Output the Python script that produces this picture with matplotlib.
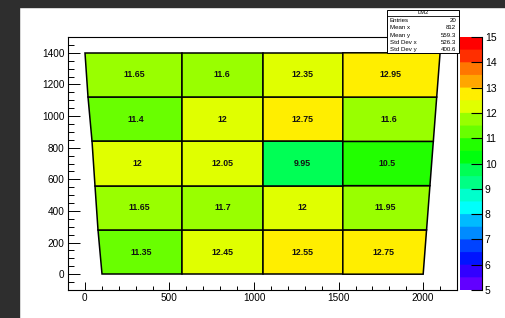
import colorsys

import numpy as np
import matplotlib
matplotlib.use("Agg")
import matplotlib.pyplot as plt
from matplotlib.colors import ListedColormap, BoundaryNorm
from matplotlib.patches import Polygon, Rectangle
from matplotlib.ticker import MultipleLocator

plt.rcParams["font.family"] = ["Liberation Sans", "DejaVu Sans"]

# bin contents, bottom row first, columns left to right
VALUES = [
    [11.35, 12.45, 12.55, 12.75],
    [11.65, 11.7, 12.0, 11.95],
    [12.0, 12.05, 9.95, 10.5],
    [11.4, 12.0, 12.75, 11.6],
    [11.65, 11.6, 12.35, 12.95],
]
LABELS = [
    ["11.35", "12.45", "12.55", "12.75"],
    ["11.65", "11.7", "12", "11.95"],
    ["12", "12.05", "9.95", "10.5"],
    ["11.4", "12", "12.75", "11.6"],
    ["11.65", "11.6", "12.35", "12.95"],
]
ROW_EDGES = [0, 280, 560, 840, 1120, 1400]
INNER_X = [575, 1050, 1525]
LEFT_X = (100, 0)      # outer left edge at y=0 and y=1400
RIGHT_X = (2000, 2100)  # outer right edge at y=0 and y=1400

STATS_TITLE = "LM2"
STATS = [("Entries", "20"), ("Mean x", "812"), ("Mean y", "559.3"),
         ("Std Dev x", "526.3"), ("Std Dev y", "400.6")]

ZMIN, ZMAX, NCONT = 5, 15, 20

# ROOT "pretty" palette (violet -> red), sampled like THistPainter
cols = []
for k in range(NCONT):
    idx = int((k + 0.99) * 50 / NCONT)
    hue = 280 - (idx + 1) * 280 / 50
    cols.append(colorsys.hls_to_rgb(hue / 360, 0.5, 1.0))
cmap = ListedColormap(cols)
norm = BoundaryNorm(np.linspace(ZMIN, ZMAX, NCONT + 1), NCONT)

W, H = 506, 318
fig = plt.figure(figsize=(W / 100, H / 100), dpi=100)
fig.patch.set_facecolor("white")
fig.patches.append(Rectangle((0, 0), 19 / W, 1, transform=fig.transFigure,
                             color="#2e2e2e", zorder=-1))
fig.patches.append(Rectangle((0, 1 - 7 / H), 1, 7 / H, transform=fig.transFigure,
                             color="#2e2e2e", zorder=-1))

ax = fig.add_axes([68 / W, 1 - 290 / H, (457 - 68) / W, (290 - 37) / H])
ax.set_xlim(-100, 2200)
ax.set_ylim(-100, 1500)


def edge_x(side, y):
    x0, x1 = side
    return x0 + (x1 - x0) * (y - ROW_EDGES[0]) / (ROW_EDGES[-1] - ROW_EDGES[0])


for r in range(len(ROW_EDGES) - 1):
    y0, y1 = ROW_EDGES[r], ROW_EDGES[r + 1]
    for c in range(len(INNER_X) + 1):
        if c == 0:
            xa0, xa1 = edge_x(LEFT_X, y0), edge_x(LEFT_X, y1)
        else:
            xa0 = xa1 = INNER_X[c - 1]
        if c == len(INNER_X):
            xb0, xb1 = edge_x(RIGHT_X, y0), edge_x(RIGHT_X, y1)
        else:
            xb0 = xb1 = INNER_X[c]
        poly = Polygon([(xa0, y0), (xb0, y0), (xb1, y1), (xa1, y1)],
                       closed=True, facecolor=cmap(norm(VALUES[r][c])),
                       edgecolor="black", linewidth=1.1)
        ax.add_patch(poly)
        xc = (xa0 + xa1 + xb0 + xb1) / 4
        ax.text(xc, (y0 + y1) / 2, LABELS[r][c], ha="center", va="center",
                fontsize=6.3, fontweight="bold", color="#111111")

for s in ax.spines.values():
    s.set_linewidth(0.8)
ax.xaxis.set_major_locator(MultipleLocator(500))
ax.xaxis.set_minor_locator(MultipleLocator(100))
ax.yaxis.set_major_locator(MultipleLocator(200))
ax.yaxis.set_minor_locator(MultipleLocator(50))
ax.tick_params(axis="x", which="major", direction="in", length=5.5, width=0.7,
               labelsize=7.2, pad=2)
ax.tick_params(axis="x", which="minor", direction="in", length=2.8, width=0.7)
ax.tick_params(axis="y", which="major", direction="in", length=8.5, width=0.7,
               labelsize=7.2, pad=2.5)
ax.tick_params(axis="y", which="minor", direction="in", length=4.3, width=0.7)

# palette
cax = fig.add_axes([460 / W, 1 - 290 / H, 22 / W, (290 - 37) / H])
cax.imshow(np.linspace(ZMIN, ZMAX, 400)[::-1, None], aspect="auto", cmap=cmap,
           norm=norm, extent=(0, 1, ZMIN, ZMAX))
cax.set_xlim(0, 1)
cax.set_ylim(ZMIN, ZMAX)
cax.set_xticks([])
cax.yaxis.tick_right()
cax.yaxis.set_major_locator(MultipleLocator(1))
cax.tick_params(axis="y", direction="in", length=8, width=0.8, labelsize=7.5,
                pad=2)
for name, s in cax.spines.items():
    s.set_visible(name == "right")
    s.set_linewidth(0.8)

# stats box
sx0, sx1, sy0, sy1 = 387 / W, 459 / W, 1 - 53 / H, 1 - 10 / H
fig.patches.append(Rectangle((sx0, sy0), sx1 - sx0, sy1 - sy0,
                             transform=fig.transFigure, facecolor="white",
                             edgecolor="black", linewidth=0.7, zorder=5))
sep = 1 - 15.5 / H
fig.lines.append(plt.Line2D([sx0, sx1], [sep, sep], transform=fig.transFigure,
                            color="black", linewidth=0.6, zorder=6))
fig.text((sx0 + sx1) / 2, 1 - 12.8 / H, STATS_TITLE, ha="center", va="center",
         fontsize=4.2, zorder=7)
for i, (k, v) in enumerate(STATS):
    yy = 1 - (20.5 + i * 7.3) / H
    fig.text(sx0 + 3 / W, yy, k, ha="left", va="center", fontsize=4.4, zorder=7)
    fig.text(sx1 - 3 / W, yy, v, ha="right", va="center", fontsize=4.4, zorder=7)

fig.savefig("out.png", dpi=100)
